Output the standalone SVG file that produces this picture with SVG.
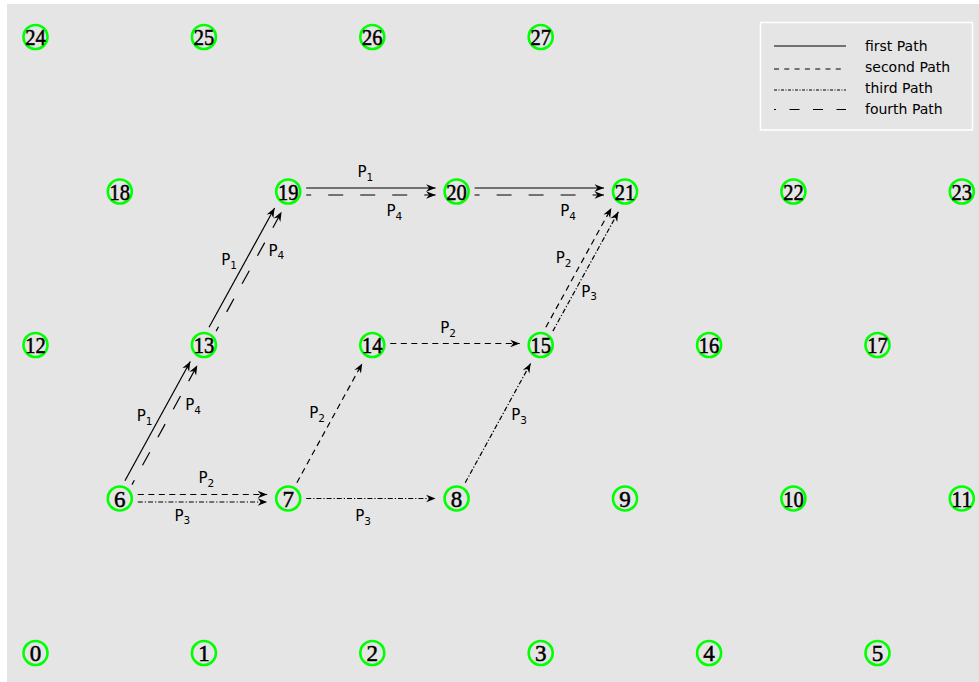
<svg xmlns="http://www.w3.org/2000/svg" width="979" height="682" viewBox="0 0 979 682">
<style>
.bg{fill:#e5e5e5}
.node circle{fill:none;stroke:#00ff00;stroke-width:2.6}
.node text{font-family:"Liberation Serif","Times New Roman",serif;font-size:23px;fill:#000;stroke:#000;stroke-width:0.5;text-anchor:middle}
.e{fill:none;stroke:#000;stroke-width:1.2;marker-end:url(#ah)}
.p1{}
.p2{stroke-dasharray:6,4.5}
.p3{stroke-dasharray:5,2,1.2,2}
.p4{stroke-dasharray:15,17;stroke-dashoffset:10}
.lbl{font-family:"DejaVu Sans","Liberation Sans",sans-serif;font-size:15px;fill:#000}
.sub{font-size:10.5px}
.leg text{font-family:"DejaVu Sans","Liberation Sans",sans-serif;font-size:14px;fill:#000}
.leg line{stroke:#000;stroke-width:1.2}
</style>
<defs>
<marker id="ah" markerUnits="userSpaceOnUse" markerWidth="12" markerHeight="10" viewBox="-10 -5 12 10" refX="0" refY="0" orient="auto">
<path d="M0,0 L-9.5,-3.8 L-6.5,0 L-9.5,3.8 Z" fill="#000"/>
</marker>
</defs>
<rect class="bg" x="7" y="4" width="972" height="678"/>

<g id="connectors">
<!-- P1 solid -->
<line class="e p1" x1="124.94" y1="480.79" x2="190.3" y2="361.5"/>
<line class="e p1" x1="209.06" y1="327.29" x2="274.58" y2="207.98"/>
<line class="e p1" x1="306.2" y1="188" x2="435.6" y2="188"/>
<line class="e p1" x1="474.6" y1="188" x2="604" y2="188"/>
<!-- P4 long dash -->
<line class="e p4" x1="131.96" y1="484.63" x2="197.32" y2="365.34"/>
<line class="e p4" x1="216.08" y1="331.15" x2="281.6" y2="211.84"/>
<line class="e p4" x1="306.2" y1="195" x2="435.6" y2="195"/>
<line class="e p4" x1="474.6" y1="195" x2="604" y2="195"/>
<!-- P2 dashed -->
<line class="e p2" x1="137.8" y1="494.5" x2="267.2" y2="494.5"/>
<line class="e p2" x1="296.85" y1="482.71" x2="362.21" y2="363.42"/>
<line class="e p2" x1="390.3" y1="343.5" x2="519.7" y2="343.5"/>
<line class="e p2" x1="545.86" y1="327.29" x2="611.38" y2="207.98"/>
<!-- P3 dash-dot -->
<line class="e p3" x1="137.8" y1="502" x2="267.2" y2="502"/>
<line class="e p3" x1="306.2" y1="498.5" x2="435.6" y2="498.5"/>
<line class="e p3" x1="465.25" y1="482.71" x2="530.61" y2="363.42"/>
<line class="e p3" x1="552.88" y1="331.15" x2="618.4" y2="211.84"/>
</g>

<g id="labels" class="lbl">
<text x="357.5" y="177">P<tspan class="sub" dy="3.5">1</tspan></text>
<text x="386.5" y="216">P<tspan class="sub" dy="3.5">4</tspan></text>
<text x="560.2" y="216">P<tspan class="sub" dy="3.5">4</tspan></text>
<text x="221.2" y="265">P<tspan class="sub" dy="3.5">1</tspan></text>
<text x="268.5" y="255.7">P<tspan class="sub" dy="3.5">4</tspan></text>
<text x="136.8" y="421">P<tspan class="sub" dy="3.5">1</tspan></text>
<text x="185.2" y="410">P<tspan class="sub" dy="3.5">4</tspan></text>
<text x="198.5" y="483.3">P<tspan class="sub" dy="3.5">2</tspan></text>
<text x="174.5" y="520.7">P<tspan class="sub" dy="3.5">3</tspan></text>
<text x="309.2" y="418.3">P<tspan class="sub" dy="3.5">2</tspan></text>
<text x="440.2" y="333.3">P<tspan class="sub" dy="3.5">2</tspan></text>
<text x="355.2" y="521">P<tspan class="sub" dy="3.5">3</tspan></text>
<text x="511.2" y="420">P<tspan class="sub" dy="3.5">3</tspan></text>
<text x="555.8" y="263.3">P<tspan class="sub" dy="3.5">2</tspan></text>
<text x="581.2" y="296.7">P<tspan class="sub" dy="3.5">3</tspan></text>
</g>

<g id="nodes">
<g id="n0" class="node"><circle cx="35.5" cy="653" r="12"/><text x="35.5" y="661">0</text></g>
<g id="n1" class="node"><circle cx="203.9" cy="653" r="12"/><text x="203.9" y="661">1</text></g>
<g id="n2" class="node"><circle cx="372.3" cy="653" r="12"/><text x="372.3" y="661">2</text></g>
<g id="n3" class="node"><circle cx="540.7" cy="653" r="12"/><text x="540.7" y="661">3</text></g>
<g id="n4" class="node"><circle cx="709.1" cy="653" r="12"/><text x="709.1" y="661">4</text></g>
<g id="n5" class="node"><circle cx="877.5" cy="653" r="12"/><text x="877.5" y="661">5</text></g>
<g id="n6" class="node"><circle cx="119.8" cy="498.5" r="12"/><text x="119.8" y="506.5">6</text></g>
<g id="n7" class="node"><circle cx="288.2" cy="498.5" r="12"/><text x="288.2" y="506.5">7</text></g>
<g id="n8" class="node"><circle cx="456.6" cy="498.5" r="12"/><text x="456.6" y="506.5">8</text></g>
<g id="n9" class="node"><circle cx="625" cy="498.5" r="12"/><text x="625" y="506.5">9</text></g>
<g id="n10" class="node"><circle cx="793.4" cy="498.5" r="12"/><text x="793.4" y="506.5" textLength="20.5" lengthAdjust="spacingAndGlyphs">10</text></g>
<g id="n11" class="node"><circle cx="961.8" cy="498.5" r="12"/><text x="961.8" y="506.5" textLength="20.5" lengthAdjust="spacingAndGlyphs">11</text></g>
<g id="n12" class="node"><circle cx="35.5" cy="345" r="12"/><text x="35.5" y="353" textLength="20.5" lengthAdjust="spacingAndGlyphs">12</text></g>
<g id="n13" class="node"><circle cx="203.9" cy="345" r="12"/><text x="203.9" y="353" textLength="20.5" lengthAdjust="spacingAndGlyphs">13</text></g>
<g id="n14" class="node"><circle cx="372.3" cy="345" r="12"/><text x="372.3" y="353" textLength="20.5" lengthAdjust="spacingAndGlyphs">14</text></g>
<g id="n15" class="node"><circle cx="540.7" cy="345" r="12"/><text x="540.7" y="353" textLength="20.5" lengthAdjust="spacingAndGlyphs">15</text></g>
<g id="n16" class="node"><circle cx="709.1" cy="345" r="12"/><text x="709.1" y="353" textLength="20.5" lengthAdjust="spacingAndGlyphs">16</text></g>
<g id="n17" class="node"><circle cx="877.5" cy="345" r="12"/><text x="877.5" y="353" textLength="20.5" lengthAdjust="spacingAndGlyphs">17</text></g>
<g id="n18" class="node"><circle cx="119.8" cy="191.5" r="12"/><text x="119.8" y="199.5" textLength="20.5" lengthAdjust="spacingAndGlyphs">18</text></g>
<g id="n19" class="node"><circle cx="288.2" cy="191.5" r="12"/><text x="288.2" y="199.5" textLength="20.5" lengthAdjust="spacingAndGlyphs">19</text></g>
<g id="n20" class="node"><circle cx="456.6" cy="191.5" r="12"/><text x="456.6" y="199.5" textLength="20.5" lengthAdjust="spacingAndGlyphs">20</text></g>
<g id="n21" class="node"><circle cx="625" cy="191.5" r="12"/><text x="625" y="199.5" textLength="20.5" lengthAdjust="spacingAndGlyphs">21</text></g>
<g id="n22" class="node"><circle cx="793.4" cy="191.5" r="12"/><text x="793.4" y="199.5" textLength="20.5" lengthAdjust="spacingAndGlyphs">22</text></g>
<g id="n23" class="node"><circle cx="961.8" cy="191.5" r="12"/><text x="961.8" y="199.5" textLength="20.5" lengthAdjust="spacingAndGlyphs">23</text></g>
<g id="n24" class="node"><circle cx="35.5" cy="37" r="12"/><text x="35.5" y="45" textLength="20.5" lengthAdjust="spacingAndGlyphs">24</text></g>
<g id="n25" class="node"><circle cx="203.9" cy="37" r="12"/><text x="203.9" y="45" textLength="20.5" lengthAdjust="spacingAndGlyphs">25</text></g>
<g id="n26" class="node"><circle cx="372.3" cy="37" r="12"/><text x="372.3" y="45" textLength="20.5" lengthAdjust="spacingAndGlyphs">26</text></g>
<g id="n27" class="node"><circle cx="540.7" cy="37" r="12"/><text x="540.7" y="45" textLength="20.5" lengthAdjust="spacingAndGlyphs">27</text></g>
</g>

<g id="legend" class="leg">
<rect x="760.5" y="22.5" width="212" height="107.5" fill="#e5e5e5" stroke="#ffffff" stroke-width="1.5"/>
<line x1="774" y1="46" x2="846" y2="46"/>
<line x1="774" y1="69" x2="846" y2="69" stroke-dasharray="5,5.3"/>
<line x1="774" y1="90" x2="846" y2="90" stroke-dasharray="3,1.5,1,1.5"/>
<line x1="774" y1="109.5" x2="846" y2="109.5" stroke-dasharray="10,13.5" stroke-dashoffset="8"/>
<text x="865" y="51">first Path</text>
<text x="865" y="72.3">second Path</text>
<text x="865" y="93.3">third Path</text>
<text x="865" y="114.3">fourth Path</text>
</g>
</svg>
